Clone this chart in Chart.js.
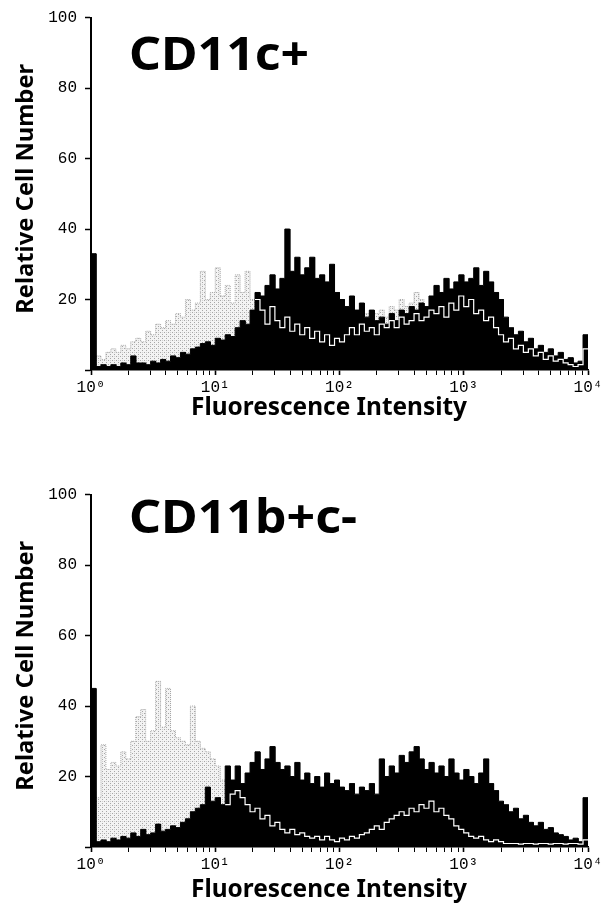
<!DOCTYPE html>
<html>
<head>
<meta charset="utf-8">
<script src="https://cdn.jsdelivr.net/npm/chart.js@4.4.1/dist/chart.umd.min.js"></script>
<style>
html,body{margin:0;padding:0;background:#fff;overflow:hidden;}
#wrap{position:relative;width:609px;height:906px;}
canvas{position:absolute;left:0;}
</style>
</head>
<body>
<div id="wrap">
<canvas id="c1" width="609" height="453" style="top:0px"></canvas>
<canvas id="c2" width="609" height="429" style="top:477px"></canvas>
</div>
<script>
// ---------------- DATA ----------------
const xTickValues = [1, 10, 100, 1000, 10000];
const xTickLabels = ['10\u2070', '10\u00b9', '10\u00b2', '10\u00b3', '10\u2074'];
const yTickValues = [20, 40, 60, 80, 100];
const panelTitles = ['CD11c+', 'CD11b+c-'];
const xTitle = 'Fluorescence Intensity';
const yTitle = 'Relative Cell Number';

// 100 channels spanning 10^0 .. 10^4 (25 channels per decade)
const cd11cBlack = [
  33,1,1.5,1,1.5,1,2,1.5,4,2,
  2,1.5,2.5,2,3,2.5,4,3.5,5,4.5,
  6,6.5,7.5,8,7,9,8.5,10,9.5,12,
  14,13,17,22,21,24,27,23,26,40,
  28,32,27,29,32,26,27,25,30,22,
  20,18,21,17,19,15,17,14,15,13,
  16,14,17,16,18,17,19,18,21,24,
  22,26,23,25,27,25,26,29,24,28,
  25,22,20,15,12,10,11,8,9,6,
  7,5,6,4,5,3,3.5,2,2.5,10
];
const cd11cWhite = [
  null,null,null,null,null,null,null,null,null,null,
  null,null,null,null,null,null,null,null,null,null,
  null,null,null,null,null,null,null,null,null,null,
  null,null,null,20,17,13,18,14,12,15,
  11,13,10,12,9,11,8,10,7,9,
  8,10,12,10,13,11,12,10,13,12,
  14,12,15,13,14,16,14,15,17,16,
  18,15,19,17,21,18,20,16,17,14,
  15,12,10,8,9,6,7,5,6,4,
  5,3,4,2.5,3,2,1.5,1,1.5,6
];
const cd11cGray = [
  3,4,3,5,6,5,7,6,8,9,
  8,11,10,13,12,14,13,16,15,20,
  17,19,28,20,22,29,21,24,19,27,
  22,28,20,18,16,15,14,13,12,12,
  11,12,11,12,11,12,13,12,13,12,
  14,13,14,15,14,16,15,16,17,15,
  18,17,20,18,19,22,20,17,16,14,
  13,12,10,9,8,7,6,5,4,4,
  3,3,2,2,2,2,1,1,1,1,
  1,1,1,0.5,0.5,0.5,0.5,0.5,0.5,0.5
];

const cd11bBlack = [
  45,1.5,2,1.5,2.5,2,3,2.5,4,3,
  5,3.5,4,6.5,4.5,5,6,5.5,7,8,
  10,11,12,17,13,14,12,23,19,23,
  18,21,24,27,22,25,28.5,24,22,23,
  20,24,19,21,18,20,17,21,18,19,
  17,16,18,15,17,16,18,15,25,20,
  23,21,26,24,27,28.5,25,22,24,21,
  23,20,25,21,19,22,20,18,21,25,
  18,16,13,12,10,11,8,9,7,6,
  7,5,5.5,4,3.5,3,2,2.5,1.5,14
];
const cd11bWhite = [
  null,null,null,null,null,null,null,null,null,null,
  null,null,null,null,null,null,null,null,null,null,
  null,null,null,null,null,null,null,12,15,16,
  14,12,10,11,8,9,6,7,5,4,
  5,3.5,4,3,2.5,3,2,3,2,1.5,
  2.5,2,3,2.5,3.5,4,5,6,5,7,
  8,9,10,9,11,10,12,11,13,10,
  11,9,8,6,5,4,3,2.5,3,2,
  1.5,2,1.5,1,1,1,0.8,1,1,0.8,
  1,1,0.8,1,1,0.8,1,1,0.8,2
];
const cd11bGray = [
  16,14,29,22,24,23,27,25,30,37,
  39,30,33,47,34,45,33,31,30,29,
  40,30,28,27,25,23,19,15,12,10,
  8,7,6,5,4,4,3,3,3,2,
  2,2,2,2,2,1,1,1,1,1,
  1,1,1,1,1,1,1,1,1,1,
  1,1,1,1,1,1,1,1,1,1,
  1,1,1,1,1,1,1,1,1,1,
  1,1,1,1,1,1,1,1,1,1,
  1,1,1,1,1,1,1,1,1,1
];

// ---------------- HELPERS ----------------
const DECADES = 4;
function toSteps(vals) {
  const n = vals.length, pts = [];
  for (let i = 0; i < n; i++) {
    const lo = Math.pow(10, DECADES * i / n);
    const hi = Math.pow(10, DECADES * (i + 1) / n);
    pts.push({x: lo, y: vals[i]}, {x: hi, y: vals[i]});
  }
  return pts;
}

function makeDots() {
  const c = document.createElement('canvas');
  c.width = 4; c.height = 4;
  const g = c.getContext('2d');
  g.fillStyle = '#f3f3f3'; g.fillRect(0, 0, 4, 4);
  g.fillStyle = '#a6a6a6'; g.fillRect(0, 0, 1, 1); g.fillRect(2, 2, 1, 1);
  g.fillStyle = '#d0d0d0'; g.fillRect(2, 0, 1, 1);
  return g.createPattern(c, 'repeat');
}

function allLogTicks() {
  const t = [];
  for (let d = 0; d < DECADES; d++) {
    for (let m = 1; m < 10; m++) t.push({value: m * Math.pow(10, d), major: m === 1});
  }
  t.push({value: Math.pow(10, DECADES), major: true});
  return t;
}

function fitText(ctx, text, size, targetW, x, y, rot) {
  ctx.save();
  ctx.font = 'bold ' + size + 'px "Noto Sans", sans-serif';
  ctx.fillStyle = '#000';
  ctx.textBaseline = 'alphabetic';
  const w = ctx.measureText(text).width;
  ctx.translate(x, y);
  if (rot) ctx.rotate(rot);
  ctx.scale(targetW / w, 1);
  ctx.textAlign = 'left';
  ctx.fillText(text, -w / 2, 0);
  ctx.restore();
}

// draws the panel label and the two axis titles
const panelText = {
  id: 'panelText',
  afterDraw(chart, args, o) {
    const ctx = chart.ctx;
    const ca = chart.chartArea;
    fitText(ctx, o.label, 46, o.labelW, 129 + o.labelW / 2, o.labelY, 0);
    fitText(ctx, o.xTitle, 25, 276, 329, o.xTitleY, 0);
    fitText(ctx, o.yTitle, 24, 250, 33, (ca.top + ca.bottom) / 2 - 5, -Math.PI / 2);
  }
};

const TICK_FONT = {family: '"Liberation Mono", "DejaVu Sans Mono", monospace', size: 16};

function makeChart(id, canvasH, label, labelY, labelW, xTitleY, black, white, gray) {
  const dots = makeDots();
  const boxH = canvasH - 370;
  return new Chart(document.getElementById(id), {
    type: 'line',
    data: {
      datasets: [
        {data: toSteps(white), order: 1, borderColor: '#ffffff', borderWidth: 1.2, fill: false, pointRadius: 0, spanGaps: false},
        {data: toSteps(black), order: 2, borderColor: '#000000', backgroundColor: '#000000', borderWidth: 1, fill: 'origin', pointRadius: 0},
        {data: toSteps(gray), order: 3, borderColor: 'rgba(150,150,150,0.8)', borderWidth: 1, borderDash: [1, 1], backgroundColor: dots, fill: 'origin', pointRadius: 0}
      ]
    },
    options: {
      responsive: false,
      animation: false,
      events: [],
      layout: {padding: {left: 0, right: 21, top: 17, bottom: 0}},
      elements: {line: {tension: 0}},
      plugins: {
        legend: {display: false},
        tooltip: {enabled: false},
        panelText: {label: label, labelY: labelY, labelW: labelW, xTitle: xTitle, xTitleY: xTitleY, yTitle: yTitle}
      },
      scales: {
        x: {
          type: 'logarithmic',
          min: 1, max: 10000,
          afterFit(s) { s.height = boxH; },
          afterBuildTicks(s) { s.ticks = allLogTicks(); },
          border: {display: true, color: '#000', width: 1.5},
          grid: {display: true, drawOnChartArea: false, drawTicks: true, tickLength: 5, color: '#000',
                 tickWidth: c => (c.tick && c.tick.major) ? 1.6 : 1},
          ticks: {
            autoSkip: false, maxRotation: 0, color: '#000', font: TICK_FONT, padding: 3,
            callback(v) {
              const k = xTickValues.indexOf(v);
              return k >= 0 ? xTickLabels[k] : '';
            }
          },
          title: {display: false}
        },
        y: {
          type: 'linear',
          min: 0, max: 100,
          afterFit(s) { s.width = 91; },
          afterBuildTicks(s) { s.ticks = [{value: 0}].concat(yTickValues.map(v => ({value: v}))); },
          border: {display: true, color: '#000', width: 2},
          grid: {display: true, drawOnChartArea: false, drawTicks: true, tickLength: 6, color: '#000', tickWidth: 1.5},
          ticks: {color: '#000', font: TICK_FONT, padding: 8,
                  callback: v => (v === 0 ? '' : String(v))},
          title: {display: false}
        }
      }
    },
    plugins: [panelText]
  });
}

makeChart('c1', 453, panelTitles[0], 70, 180, 415, cd11cBlack, cd11cWhite, cd11cGray);
makeChart('c2', 429, panelTitles[1], 56, 228, 420, cd11bBlack, cd11bWhite, cd11bGray);
</script>
</body>
</html>
